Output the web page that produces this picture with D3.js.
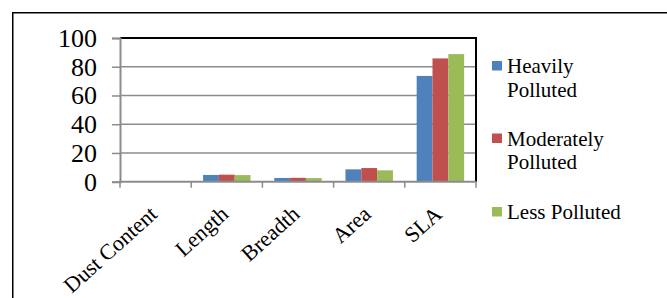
<!DOCTYPE html>
<html>
<head>
<meta charset="utf-8">
<script src="https://cdn.jsdelivr.net/npm/d3@7"></script>
<style>
    body { margin: 0; background: #fff; }
    svg text { font-family: "Liberation Serif", "Times New Roman", serif; fill: #000; }
</style>
</head>
<body>
<div id="chart"></div>
<script>
    "use strict";

    // values
    var categories = ["Dust Content", "Length", "Breadth", "Area", "SLA"];
    var seriesNames = ["Heavily Polluted", "Moderately Polluted", "Less Polluted"];
    var heavily = [0, 4.7, 2.6, 8.6, 73.6];
    var moderately = [0, 4.9, 2.7, 9.5, 85.8];
    var lessPolluted = [0, 4.6, 2.5, 7.9, 88.8];
    var yTicks = [0, 20, 40, 60, 80, 100];
    var legendLines = [["Heavily", "Polluted"], ["Moderately", "Polluted"], ["Less Polluted"]];

    var seriesValues = [heavily, moderately, lessPolluted];
    var colors = ["#4F81BD", "#C0504D", "#9BBB59"];

    var width = 667;
    var height = 298;

    var svg = d3.select("#chart").append("svg")
        .attr("width", width)
        .attr("height", height);

    // outer frame, runs off the right and bottom edge
    svg.append("rect")
        .attr("x", 12.75).attr("y", 12.75)
        .attr("width", 700).attr("height", 320)
        .attr("fill", "none")
        .attr("stroke", "#000")
        .attr("stroke-width", 1.5);

    var plot = { left: 120, right: 476, top: 38, bottom: 181.7 };

    var x = d3.scaleBand()
        .domain(categories)
        .range([plot.left, plot.right]);

    // gap width 150%: three bars in 4.5 bar widths
    var bw = x.bandwidth();
    var xs = d3.scaleBand()
        .domain(d3.range(seriesNames.length))
        .range([bw * 0.75 / 4.5, bw - bw * 0.75 / 4.5]);

    var y = d3.scaleLinear()
        .domain([0, 100])
        .range([plot.bottom, plot.top]);

    // gridlines
    svg.append("g")
        .selectAll("line")
        .data(yTicks.filter(function (t) { return t > 0 && t < 100; }))
        .enter().append("line")
        .attr("x1", plot.left).attr("x2", plot.right)
        .attr("y1", function (d) { return y(d); })
        .attr("y2", function (d) { return y(d); })
        .attr("stroke", "#8C8C8C")
        .attr("stroke-width", 1.5);

    // bars
    var rows = categories.map(function (c, i) {
        return seriesValues.map(function (s, j) { return { cat: c, s: j, v: s[i] }; });
    });

    svg.append("g")
        .selectAll("g")
        .data(rows)
        .enter().append("g")
        .attr("transform", function (d, i) { return "translate(" + x(categories[i]) + ",0)"; })
        .selectAll("rect")
        .data(function (d) { return d; })
        .enter().append("rect")
        .attr("x", function (d) { return xs(d.s); })
        .attr("width", xs.bandwidth())
        .attr("y", function (d) { return y(d.v); })
        .attr("height", function (d) { return y(0) - y(d.v); })
        .attr("fill", function (d) { return colors[d.s]; });

    // plot area border: top and right black
    svg.append("path")
        .attr("d", "M" + plot.left + "," + plot.top + "H" + plot.right + "V" + plot.bottom)
        .attr("fill", "none")
        .attr("stroke", "#000")
        .attr("stroke-width", 2);

    // y axis
    var yAxis = svg.append("g")
        .attr("transform", "translate(" + plot.left + ",0)")
        .call(d3.axisLeft(y).tickValues(yTicks).tickSize(8).tickPadding(15));
    yAxis.select(".domain").attr("stroke", "#8C8C8C").attr("stroke-width", 2);
    yAxis.selectAll(".tick line").attr("stroke", "#8C8C8C").attr("stroke-width", 1.5);
    yAxis.selectAll(".tick text")
        .style("font-family", "'Liberation Serif', serif")
        .style("font-size", "26px")
        .attr("fill", "#000");

    // x axis: ticks at category boundaries
    var xAxisG = svg.append("g");
    xAxisG.append("line")
        .attr("x1", plot.left - 1).attr("x2", plot.right)
        .attr("y1", plot.bottom).attr("y2", plot.bottom)
        .attr("stroke", "#8C8C8C").attr("stroke-width", 2);
    xAxisG.selectAll("line.tk")
        .data(categories.concat([null]))
        .enter().append("line")
        .attr("class", "tk")
        .attr("x1", function (d) { return d === null ? plot.right : x(d); })
        .attr("x2", function (d) { return d === null ? plot.right : x(d); })
        .attr("y1", plot.bottom).attr("y2", plot.bottom + 6)
        .attr("stroke", "#8C8C8C").attr("stroke-width", 1.5);

    xAxisG.selectAll("text")
        .data(categories)
        .enter().append("text")
        .attr("text-anchor", "end")
        .attr("transform", function (d) {
            var cx = x(d) + bw / 2 + 3;
            return "translate(" + cx + ",216) rotate(-42)";
        })
        .style("font-size", "22px")
        .text(function (d) { return d; });

    // legend
    var legendTop = [61, 133.5, 207];
    var legend = svg.append("g");
    legendLines.forEach(function (lines, i) {
        legend.append("rect")
            .attr("x", 492).attr("y", legendTop[i])
            .attr("width", 10).attr("height", 9.5)
            .attr("fill", colors[i]);
        var t = legend.append("text")
            .attr("x", 507)
            .attr("y", legendTop[i] + 12)
            .style("font-size", "21px");
        lines.forEach(function (l, k) {
            t.append("tspan")
                .attr("x", 507)
                .attr("dy", k === 0 ? 0 : 23.5)
                .text(l);
        });
    });
</script>
</body>
</html>
